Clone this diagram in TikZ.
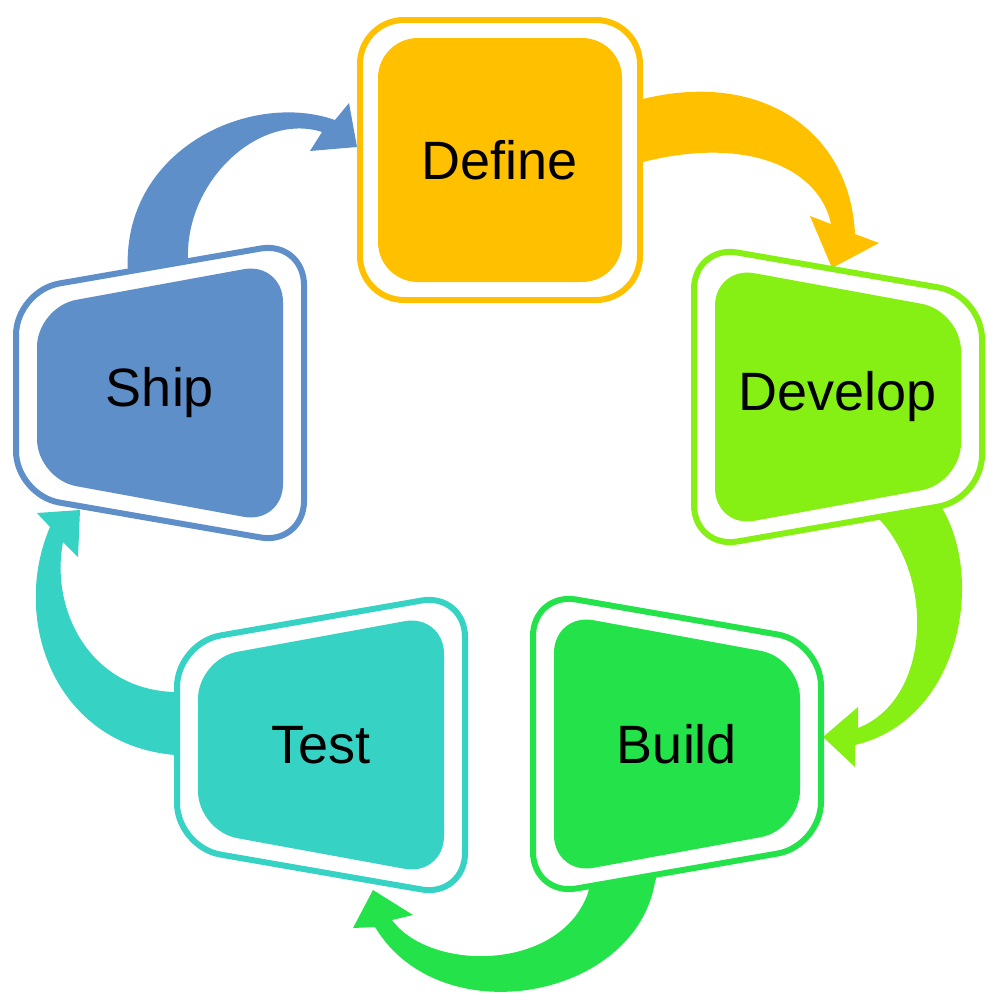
\documentclass[tikz,border=0pt]{standalone}
\usepackage{fontspec}
\setmainfont{Liberation Sans}
\usetikzlibrary{backgrounds}
\definecolor{definec}{RGB}{255, 192, 0}
\definecolor{developc}{RGB}{134, 239, 20}
\definecolor{buildc}{RGB}{35, 226, 74}
\definecolor{testc}{RGB}{54, 211, 196}
\definecolor{shipc}{RGB}{95, 143, 201}
\tikzset{
	stage/.style={
		rectangle, inner sep=0pt, font=\fontsize{54}{60}\selectfont
	},
	%
	squarestage/.style={
		rectangle, minimum size=244pt, rounded corners=40pt,
		inner sep=0pt, font=\fontsize{54}{60}\selectfont
	},
	%
	squareout/.style={
		rectangle, minimum size=280pt, rounded corners=44pt,
		line width=6pt, fill=white
	},
	%
	stageout/.style={
		line width=6pt, fill=white, rounded corners=44pt
	},
	%
	stagein/.style={
		rounded corners=40pt
	}
}

\begin{document}
\begin{tikzpicture}[x=1pt, y=-1pt]
\useasboundingbox (0,0) rectangle (998,1002);

\node(defineout)[squareout, draw=definec] at (500,160) {};
\node(define)[squarestage, fill=definec] at (defineout) {Define};

% long side towards the middle
\begin{scope}[shift={(838,397)}]
\filldraw[stageout, draw=developc] (-144,-152) -- (144,-102) -- (144,102) -- (-144,152) -- cycle;
\fill[stagein, developc] (-123,-131) -- (123,-86) -- (123,86) -- (-123,131) -- cycle;
\end{scope}
\node(develop)[stage] at (838,397) {Develop};

\begin{scope}[shift={(677,744)}]
\filldraw[stageout, draw=buildc] (-144,-152) -- (144,-102) -- (144,102) -- (-144,152) -- cycle;
\fill[stagein, buildc] (-123,-131) -- (123,-86) -- (123,86) -- (-123,131) -- cycle;
\end{scope}
\node(build)[stage] at (677,744) {Build};

\begin{scope}[shift={(321,745)}]
\filldraw[stageout, draw=testc] (-144,-102) -- (144,-152) -- (144,152) -- (-144,102) -- cycle;
\fill[stagein, testc] (-123,-86) -- (123,-131) -- (123,131) -- (-123,86) -- cycle;
\end{scope}
\node(test)[stage] at (321,745) {Test};

\begin{scope}[shift={(160,393)}]
\filldraw[stageout, draw=shipc] (-144,-102) -- (144,-152) -- (144,152) -- (-144,102) -- cycle;
\fill[stagein, shipc] (-123,-86) -- (123,-131) -- (123,131) -- (-123,86) -- cycle;
\end{scope}
\node(ship)[stage] at (160,393) {Ship};

\begin{scope}[on background layer]
% define -> develop
\fill[definec] (636,99) -- (643,99) .. controls (760,70) and (850,130) .. (855,234) -- (879,243) -- (832,268) -- (810,216) -- (831,224) .. controls (820,170) and (750,135) .. (643,162) -- (636,162) -- cycle;
% develop -> build
\fill[developc] (940,498) -- (942,508) .. controls (985,580) and (960,720) .. (855,745) -- (855,767) -- (823,737) -- (858,707) -- (858,728) .. controls (930,700) and (935,580) .. (880,520) -- (878,510) -- cycle;
% build -> test
\fill[buildc] (658,872) -- (655,882) .. controls (635,1000) and (440,1035) .. (375,927) -- (353,928) -- (373,890) -- (413,915) -- (392,920) .. controls (430,972) and (560,972) .. (588,893) -- (590,883) -- cycle;
% test -> ship
\fill[testc] (183,756) -- (175,755) .. controls (55,745) and (10,620) .. (50,527) -- (37,513) -- (80,510) -- (78,557) -- (63,542) .. controls (50,610) and (90,690) .. (175,692) -- (183,692) -- cycle;
% ship -> define
\fill[shipc] (128,281) -- (128,273) .. controls (120,150) and (250,90) .. (335,120) -- (349,103) -- (357,147) -- (310,151) -- (322,132) .. controls (260,112) and (185,180) .. (188,260) -- (188,268) -- cycle;
\end{scope}
\end{tikzpicture}
\end{document}
